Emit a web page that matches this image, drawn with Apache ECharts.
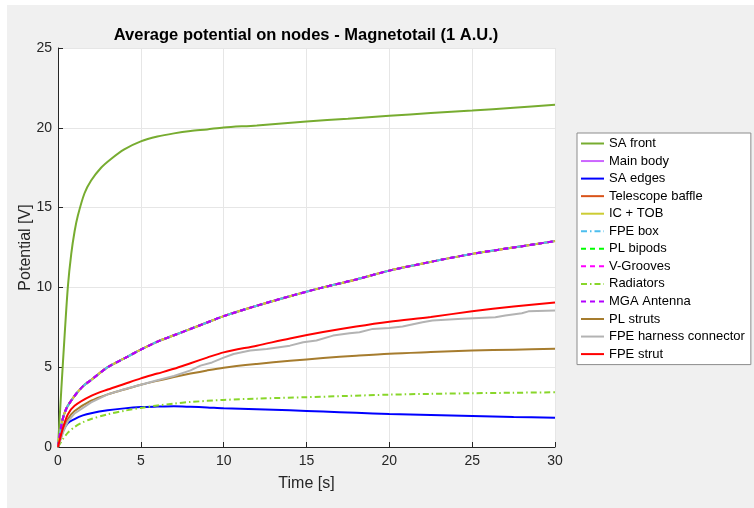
<!DOCTYPE html>
<html>
<head>
<meta charset="utf-8">
<script src="https://cdn.jsdelivr.net/npm/echarts@6/dist/echarts.min.js"></script>
<style>
html,body{margin:0;padding:0;background:#fff;}
#bg{position:absolute;left:7px;top:5px;width:747px;height:503px;background:#f0f0f0;}
#chart{position:absolute;left:0;top:0;width:754px;height:508px;}
</style>
</head>
<body>
<div id="bg"></div>
<div id="chart"></div>
<script>
// ---- data ----
var seriesNames = ['SA front','Main body','SA edges','Telescope baffle','IC + TOB','FPE box','PL bipods','V-Grooves','Radiators','MGA Antenna','PL struts','FPE harness connector','FPE strut'];
var xTicks = [0,5,10,15,20,25,30];
var yTicks = [0,5,10,15,20,25];

var tSAfront = [0,0.2,0.4,0.6,0.8,1.0,1.2,1.6,2,2.6,3.2,4,5,6,7,8,9,10,12,15,17.5,20,22.5,25,27.5,30];
var vSAfront = [0,3.6,7.0,10.1,12.1,13.5,14.5,15.9,16.7,17.5,18.05,18.65,19.15,19.45,19.65,19.8,19.9,20.02,20.15,20.4,20.56,20.75,20.92,21.08,21.26,21.44];

// shared curve for the overlapping nodes (Main body, Telescope baffle, IC+TOB, FPE box, PL bipods, V-Grooves, MGA Antenna)
var tShared = [0,0.25,0.5,1,1.5,2,3,4,5,6,7,8,9,10,12,14,16,18,20,22.5,25,27.5,30];
var vShared = [0,1.6,2.4,3.2,3.8,4.2,5.0,5.55,6.1,6.6,7.0,7.4,7.8,8.2,8.85,9.45,10.0,10.5,11.05,11.6,12.1,12.5,12.9];

var tSAedges = [0,0.3,0.6,1,1.5,2,3,4,5,6,7,8,9,10,12,14,16,18,20,22.5,25,27.5,30];
var vSAedges = [0,1.0,1.5,1.75,1.98,2.12,2.3,2.42,2.5,2.53,2.55,2.52,2.48,2.43,2.37,2.3,2.22,2.14,2.07,2.0,1.94,1.88,1.83];

var tRadiators = [0,0.3,0.6,1,1.5,2,3,4,5,6,7,8,10,12,15,17.5,20,22.5,25,27.5,30];
var vRadiators = [0,0.5,0.9,1.25,1.55,1.75,2.05,2.27,2.45,2.6,2.72,2.82,2.95,3.03,3.12,3.2,3.28,3.33,3.37,3.4,3.43];

var tPLstruts = [0,0.3,0.6,1,2,3,4,5,6,7,8,9,10,12,14,16,18,20,22.5,25,27.5,30];
var vPLstruts = [0,1.0,1.75,2.25,2.9,3.3,3.6,3.9,4.15,4.38,4.6,4.8,4.97,5.2,5.4,5.57,5.72,5.85,5.95,6.04,6.1,6.15];

var tHarness = [0,0.3,0.6,1,2,3,4,5,6,7,8,8.6,9.3,10,10.6,11.6,12.6,14,14.8,15.6,16.6,17.6,18.2,19,20,20.8,22,22.6,24.4,25.4,26.4,27,28,28.4,30];
var vHarness = [0,0.9,1.6,2.1,2.8,3.3,3.62,3.9,4.18,4.45,4.8,5.1,5.3,5.6,5.83,6.04,6.14,6.35,6.56,6.67,6.98,7.13,7.19,7.4,7.46,7.55,7.82,7.92,8.03,8.09,8.13,8.24,8.38,8.5,8.55];

var tFPEstrut = [0,0.3,0.6,1,2,3,4,5,6,7,8,9,10,12,14,16,18,20,22.5,25,27.5,30];
var vFPEstrut = [0,1.2,2.05,2.58,3.2,3.6,3.95,4.3,4.6,4.9,5.25,5.6,5.93,6.35,6.8,7.2,7.55,7.85,8.15,8.5,8.8,9.06];

// ---- build ----
function pairs(t, v){ return t.map(function(x,i){ return [x, v[i]]; }); }

var styles = [
  {c:'#77ac30', type:'solid', t:tSAfront, v:vSAfront},
  {c:'#cc66ff', type:'solid', t:tShared, v:vShared},
  {c:'#0000ff', type:'solid', t:tSAedges, v:vSAedges},
  {c:'#d95319', type:'solid', t:tShared, v:vShared},
  {c:'#cccc33', type:'solid', t:tShared, v:vShared},
  {c:'#4dbeee', type:[6,3,1.5,3], t:tShared, v:vShared},
  {c:'#00ff00', type:[5,4], t:tShared, v:vShared},
  {c:'#ff00ff', type:[5,4], t:tShared, v:vShared},
  {c:'#88d62a', type:[6,3,1.5,3], t:tRadiators, v:vRadiators},
  {c:'#b300ff', type:[5,4], t:tShared, v:vShared},
  {c:'#a67c2e', type:'solid', t:tPLstruts, v:vPLstruts},
  {c:'#b3b3b3', type:'solid', t:tHarness, v:vHarness, nosmooth:true},
  {c:'#ff0000', type:'solid', t:tFPEstrut, v:vFPEstrut}
];

var series = styles.map(function(s, i){
  return {
    name: seriesNames[i],
    type: 'line',
    data: pairs(s.t, s.v),
    showSymbol: false,
    symbol: 'none',
    smooth: s.nosmooth ? false : 0.3,
    color: s.c,
    lineStyle: {color: s.c, width: 2, type: s.type},
    animation: false
  };
});

var font = 'Liberation Sans, Arial, Helvetica, sans-serif';
var chart = echarts.init(document.getElementById('chart'), null, {renderer:'canvas'});
chart.setOption({
  animation: false,
  backgroundColor: 'transparent',
  title: {
    text: 'Average potential on nodes - Magnetotail (1 A.U.)',
    left: 306, top: 27, textAlign: 'center', padding: 0,
    textStyle: {fontFamily: font, fontSize: 16.5, fontWeight: 'bold', color: '#000'}
  },
  grid: {left: 58, right: 199, top: 48, bottom: 61, show: true, backgroundColor: '#fff', borderWidth: 0},
  legend: {
    data: seriesNames,
    orient: 'vertical',
    left: 577, top: 133,
    padding: [4, 6, 4, 3],
    itemWidth: 23, itemHeight: 13, itemGap: 4.55,
    backgroundColor: '#fff',
    borderColor: '#8c8c8c', borderWidth: 1,
    itemStyle: {opacity: 0},
    textStyle: {fontFamily: font, fontSize: 13, color: '#000'}
  },
  xAxis: {
    type: 'value', min: 0, max: 30, interval: 5,
    name: 'Time [s]', nameLocation: 'middle', nameGap: 29, nameMoveOverlap: false,
    nameTextStyle: {fontFamily: font, fontSize: 16, color: '#262626'},
    axisLine: {show: true, lineStyle: {color: '#262626', width: 1}},
    axisTick: {show: true, inside: true, length: 5, lineStyle: {color: '#262626'}},
    axisLabel: {fontFamily: font, fontSize: 14, color: '#262626', margin: 7},
    splitLine: {show: true, lineStyle: {color: '#e6e6e6', width: 1}}
  },
  yAxis: {
    type: 'value', min: 0, max: 25, interval: 5,
    name: 'Potential [V]', nameLocation: 'middle', nameGap: 24, nameRotate: 90, nameMoveOverlap: false,
    nameTextStyle: {fontFamily: font, fontSize: 16, color: '#262626'},
    axisLine: {show: true, lineStyle: {color: '#262626', width: 1}},
    axisTick: {show: true, inside: true, length: 5, lineStyle: {color: '#262626'}},
    axisLabel: {fontFamily: font, fontSize: 14, color: '#262626', margin: 6},
    splitLine: {show: true, lineStyle: {color: '#e6e6e6', width: 1}}
  },
  series: series
});
</script>
</body>
</html>
